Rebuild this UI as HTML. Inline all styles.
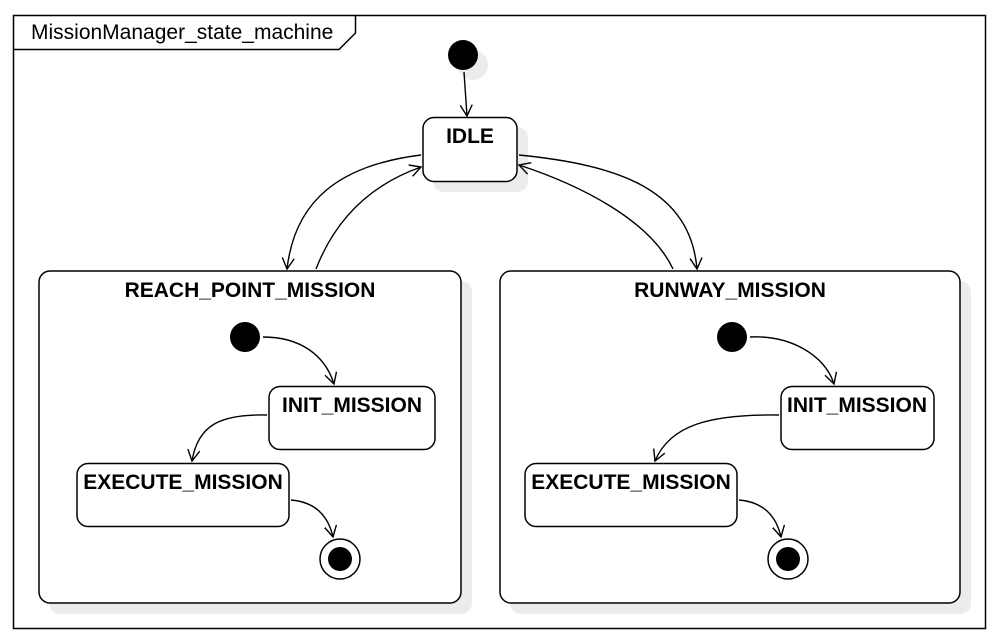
<!DOCTYPE html>
<html><head><meta charset="utf-8"><style>
html,body{margin:0;padding:0;background:#fff}
svg{display:block}
text{font-family:"Liberation Sans",sans-serif;fill:#000}
.b{font-weight:bold;font-size:21px}
</style></head><body>
<svg width="997" height="642" viewBox="0 0 997 642">
<defs>
<marker id="a" markerWidth="14" markerHeight="14" refX="12" refY="7" orient="auto" markerUnits="userSpaceOnUse">
<path d="M1,1 L12,7 L1,13" fill="none" stroke="#000" stroke-width="1.4"/>
</marker>
</defs>
<rect x="0" y="0" width="997" height="642" fill="#fff"/>
<rect x="13.5" y="15.5" width="972" height="613" fill="none" stroke="#000" stroke-width="1.5"/>
<path d="M13.5,49.5 H339 L355.5,33 V15.5" fill="none" stroke="#000" stroke-width="1.5"/>
<text x="31" y="39" font-size="21">MissionManager_state_machine</text>

<g fill="#ececec">
<circle cx="473" cy="65" r="15"/>
<rect x="433" y="127" width="95" height="65" rx="11"/>
<rect x="49" y="281" width="423" height="333" rx="11"/>
<rect x="510" y="281" width="461" height="333" rx="11"/>
<circle cx="255" cy="347" r="15"/>
<rect x="279" y="396" width="167" height="65" rx="11"/>
<rect x="87" y="473" width="213" height="64" rx="11"/>
<circle cx="350" cy="569" r="20"/>
<circle cx="742" cy="347" r="15"/>
<rect x="791" y="396" width="154" height="65" rx="11"/>
<rect x="535" y="473" width="213" height="64" rx="11"/>
<circle cx="798" cy="569" r="20"/>
</g>

<circle cx="463" cy="55" r="15" fill="#000"/>
<path d="M464,72 L467,116" fill="none" stroke="#000" stroke-width="1.4" marker-end="url(#a)"/>
<rect x="423" y="117.5" width="94" height="64" rx="11" fill="#fff" stroke="#000" stroke-width="1.5"/>
<text x="470" y="143" class="b" text-anchor="middle">IDLE</text>

<rect x="39" y="271" width="422" height="332" rx="11" fill="#fff" stroke="#000" stroke-width="1.5"/>
<text x="250" y="297" class="b" text-anchor="middle">REACH_POINT_MISSION</text>
<rect x="500" y="271" width="460" height="332" rx="11" fill="#fff" stroke="#000" stroke-width="1.5"/>
<text x="730" y="297" class="b" text-anchor="middle">RUNWAY_MISSION</text>

<g fill="none" stroke="#000" stroke-width="1.4">
<path d="M421,155 C340,165 295,200 287,269" marker-end="url(#a)"/>
<path d="M316,269 C335,220 370,185 421,167" marker-end="url(#a)"/>
<path d="M519,155 C620,165 690,190 697,269" marker-end="url(#a)"/>
<path d="M673,269 C650,220 580,185 519,165" marker-end="url(#a)"/>
</g>

<circle cx="245" cy="337" r="15" fill="#000"/>
<rect x="269" y="386.5" width="166" height="63" rx="11" fill="#fff" stroke="#000" stroke-width="1.5"/>
<text x="352" y="412" class="b" text-anchor="middle">INIT_MISSION</text>
<rect x="77" y="463.5" width="212" height="63" rx="11" fill="#fff" stroke="#000" stroke-width="1.5"/>
<text x="183" y="489" class="b" text-anchor="middle">EXECUTE_MISSION</text>
<circle cx="340" cy="559" r="20" fill="#fff" stroke="#000" stroke-width="1.5"/>
<circle cx="340" cy="559" r="12" fill="#000"/>

<circle cx="732" cy="337" r="15" fill="#000"/>
<rect x="781" y="386.5" width="153" height="63" rx="11" fill="#fff" stroke="#000" stroke-width="1.5"/>
<text x="857" y="412" class="b" text-anchor="middle">INIT_MISSION</text>
<rect x="525" y="463.5" width="212" height="63" rx="11" fill="#fff" stroke="#000" stroke-width="1.5"/>
<text x="631" y="489" class="b" text-anchor="middle">EXECUTE_MISSION</text>
<circle cx="788" cy="559" r="20" fill="#fff" stroke="#000" stroke-width="1.5"/>
<circle cx="788" cy="559" r="12" fill="#000"/>

<g fill="none" stroke="#000" stroke-width="1.4">
<path d="M263,337 C300,337 325,355 334,384" marker-end="url(#a)"/>
<path d="M267,415 C220,414 198,425 192,461" marker-end="url(#a)"/>
<path d="M291,500 C315,502 328,515 333,537" marker-end="url(#a)"/>
<path d="M750,337 C790,335 825,355 834,384" marker-end="url(#a)"/>
<path d="M779,415 C710,414 670,425 655,461" marker-end="url(#a)"/>
<path d="M739,500 C763,502 776,515 781,537" marker-end="url(#a)"/>
</g>
</svg>
</body></html>
